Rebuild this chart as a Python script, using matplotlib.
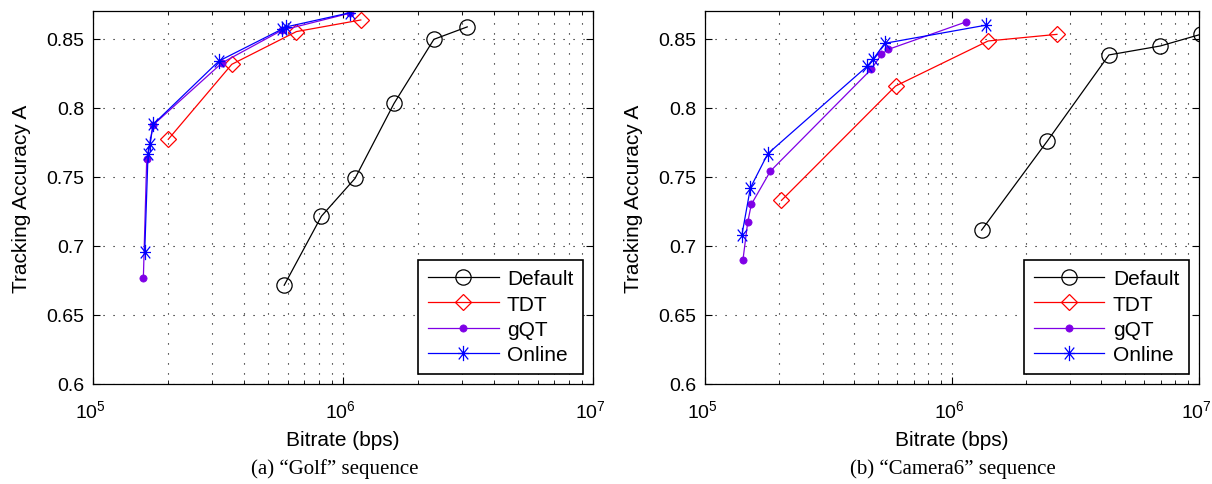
import numpy as np
import matplotlib
matplotlib.use("Agg")
import matplotlib.pyplot as plt
import matplotlib.transforms as mtransforms
from matplotlib.path import Path
from matplotlib.ticker import FixedLocator, FormatStrFormatter, LogLocator, NullFormatter

plt.rcParams['font.family'] = ['Liberation Sans', 'DejaVu Sans']
plt.rcParams['mathtext.fontset'] = 'custom'
plt.rcParams['mathtext.rm'] = 'Liberation Sans'

series_names = ["Default", "TDT", "gQT", "Online"]

# (a) Golf
golf_default_x = [5.82e5, 8.2e5, 1.117e6, 1.6e6, 2.31e6, 3.14e6]
golf_default_y = [0.6715, 0.7215, 0.7488, 0.8031, 0.8495, 0.8585]
golf_tdt_x = [2.0e5, 3.59e5, 6.51e5, 1.178e6]
golf_tdt_y = [0.7771, 0.8314, 0.8551, 0.8635]
golf_gqt_x = [1.59e5, 1.64e5, 1.74e5, 3.29e5, 5.69e5, 1.07e6]
golf_gqt_y = [0.6765, 0.7626, 0.7875, 0.8326, 0.8560, 0.8685]
golf_online_x = [1.61e5, 1.66e5, 1.69e5, 1.74e5, 3.19e5, 5.69e5, 5.93e5, 1.07e6]
golf_online_y = [0.6954, 0.7662, 0.7734, 0.7879, 0.8338, 0.8568, 0.8585, 0.8688]

# (b) Camera6
cam_default_x = [1.318e6, 2.43e6, 4.32e6, 6.98e6, 1.016e7]
cam_default_y = [0.7114, 0.7758, 0.8382, 0.8447, 0.8531]
cam_tdt_x = [2.04e5, 5.91e5, 1.40e6, 2.66e6]
cam_tdt_y = [0.7329, 0.8157, 0.8483, 0.8531]
cam_gqt_x = [1.425e5, 1.489e5, 1.54e5, 1.84e5, 4.71e5, 5.18e5, 5.52e5, 1.14e6]
cam_gqt_y = [0.6901, 0.7171, 0.7300, 0.7541, 0.8278, 0.8386, 0.8422, 0.8621]
cam_online_x = [1.41e5, 1.527e5, 1.796e5, 4.54e5, 4.79e5, 5.34e5, 1.368e6]
cam_online_y = [0.7077, 0.7420, 0.7667, 0.8301, 0.8350, 0.8466, 0.8597]

yticks = [0.6, 0.65, 0.7, 0.75, 0.8, 0.85]
xlabel = "Bitrate (bps)"
ylabel = "Tracking Accuracy A"
captions = ["(a) \u201cGolf\u201d sequence", "(b) \u201cCamera6\u201d sequence"]

# asterisk marker (MATLAB-like)
ast_verts = [(0, -1), (0, 1), (-0.72, 0), (0.72, 0),
             (-0.62, -0.78), (0.62, 0.78), (-0.62, 0.78), (0.62, -0.78)]
ast_codes = [Path.MOVETO, Path.LINETO] * 4
asterisk = Path(ast_verts, ast_codes)

purple = '#7F00E6'
styles = [
    dict(color='black', marker='o', ms=11, mfc='none', mec='black', mew=0.9),
    dict(color='#FF0000', marker='D', ms=8.2, mfc='none', mec='#FF0000', mew=0.9),
    dict(color=purple, marker='o', ms=5.2, mfc=purple, mec=purple, mew=0.5),
    dict(color='#0000FF', marker=asterisk, ms=11, mfc='none', mec='#0000FF', mew=0.9),
]

fig = plt.figure(figsize=(12.12, 4.85), dpi=100)
W, H = 1212, 485
ax_boxes = [(93, 593), (705, 1199)]
top_px, bot_px = 12, 385
caption_x = [335, 953]

data = [
    [(golf_default_x, golf_default_y), (golf_tdt_x, golf_tdt_y),
     (golf_gqt_x, golf_gqt_y), (golf_online_x, golf_online_y)],
    [(cam_default_x, cam_default_y), (cam_tdt_x, cam_tdt_y),
     (cam_gqt_x, cam_gqt_y), (cam_online_x, cam_online_y)],
]

grid_ls = (0, (1, 8))
for i, (l, r) in enumerate(ax_boxes):
    ax = fig.add_axes([l / W, 1 - bot_px / H, (r - l) / W, (bot_px - top_px) / H])
    for (xs, ys), name, st in zip(data[i], series_names, styles):
        ax.plot(xs, ys, lw=0.9, label=name, **st)
    ax.set_xscale('log')
    ax.set_xlim(1e5, 1e7)
    ax.set_ylim(0.6, 0.87)
    ax.yaxis.set_major_locator(FixedLocator(yticks))
    ax.yaxis.set_major_formatter(FormatStrFormatter('%g'))
    ax.xaxis.set_major_locator(LogLocator(base=10, numticks=10))
    ax.xaxis.set_minor_locator(LogLocator(base=10, subs=np.arange(2, 10), numticks=20))
    ax.xaxis.set_minor_formatter(NullFormatter())
    ax.tick_params(which='both', direction='in', top=True, right=True, labelsize=14)
    ax.tick_params(axis='x', which='major', pad=11)
    ax.tick_params(axis='y', which='major', pad=6)
    ax.tick_params(which='major', length=5, width=0.8)
    ax.tick_params(which='minor', length=3, width=0.6)
    ax.grid(True, which='major', axis='both', color='black', lw=0.8, linestyle=grid_ls)
    ax.grid(True, which='minor', axis='x', color='black', lw=0.8, linestyle=grid_ls)
    for sp in ax.spines.values():
        sp.set_linewidth(0.9)
    ax.set_xlabel(xlabel, fontsize=15, labelpad=6)
    ax.set_ylabel(ylabel, fontsize=15, labelpad=11)
    leg = ax.legend(loc='lower right', fontsize=15, frameon=True, fancybox=False,
                    edgecolor='black', framealpha=1, handlelength=3.4, handletextpad=0.4,
                    labelspacing=0.3, borderpad=0.45, borderaxespad=0.5)
    leg.get_frame().set_linewidth(1.2)
    fig.canvas.draw()
    labels = ax.get_xticklabels()
    for j, lab in enumerate(labels):
        shift = -3 if j < len(labels) - 1 else -7
        lab.set_transform(lab.get_transform() +
                          mtransforms.ScaledTranslation(shift / 100, 0, fig.dpi_scale_trans))
    fig.text(caption_x[i] / W, 1 - 469 / H, captions[i], ha='center', va='center',
             fontsize=15, family=['Liberation Serif', 'DejaVu Serif'])

fig.savefig('out.png', dpi=100)
